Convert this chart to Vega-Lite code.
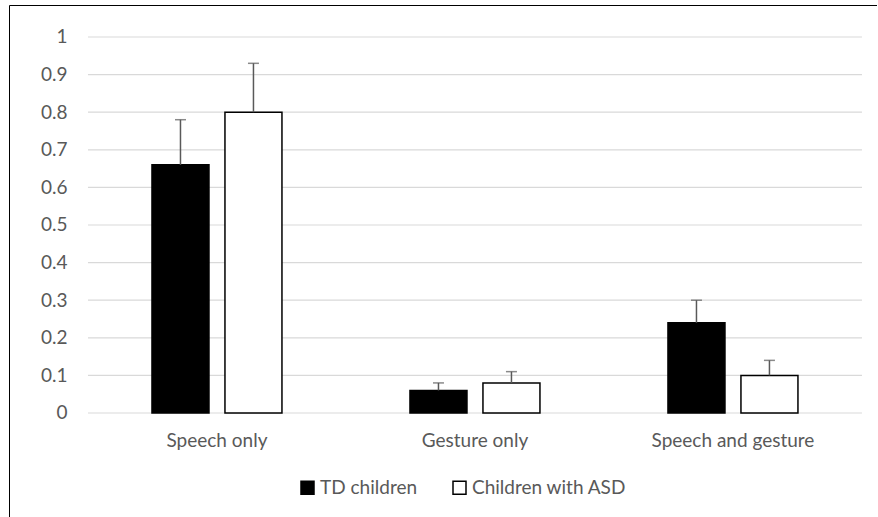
{
  "$schema": "https://vega.github.io/schema/vega-lite/v6.json",
  "width": 868,
  "height": 512,
  "autosize": {"type": "none"},
  "padding": {"left": 9, "top": 5, "right": 0, "bottom": 0},
  "background": "white",
  "config": {"view": {"stroke": "black", "strokeWidth": 1}, "font": "Lato"},
  "datasets": {
    "bars": [
      {"category": "Speech only", "group": "TD children", "value": 0.66, "upper": 0.78},
      {"category": "Speech only", "group": "Children with ASD", "value": 0.80, "upper": 0.93},
      {"category": "Gesture only", "group": "TD children", "value": 0.06, "upper": 0.08},
      {"category": "Gesture only", "group": "Children with ASD", "value": 0.08, "upper": 0.11},
      {"category": "Speech and gesture", "group": "TD children", "value": 0.24, "upper": 0.30},
      {"category": "Speech and gesture", "group": "Children with ASD", "value": 0.10, "upper": 0.14}
    ],
    "grid": [
      {"v": 0, "from": "Speech only", "to": "Speech and gesture"},
      {"v": 0.1, "from": "Speech only", "to": "Speech and gesture"},
      {"v": 0.2, "from": "Speech only", "to": "Speech and gesture"},
      {"v": 0.3, "from": "Speech only", "to": "Speech and gesture"},
      {"v": 0.4, "from": "Speech only", "to": "Speech and gesture"},
      {"v": 0.5, "from": "Speech only", "to": "Speech and gesture"},
      {"v": 0.6, "from": "Speech only", "to": "Speech and gesture"},
      {"v": 0.7, "from": "Speech only", "to": "Speech and gesture"},
      {"v": 0.8, "from": "Speech only", "to": "Speech and gesture"},
      {"v": 0.9, "from": "Speech only", "to": "Speech and gesture"},
      {"v": 1, "from": "Speech only", "to": "Speech and gesture"}
    ]
  },
  "layer": [
    {
      "data": {"name": "grid"},
      "mark": {"type": "rule", "color": "#d9d9d9", "strokeWidth": 1.2},
      "encoding": {
        "x": {
          "field": "from", "type": "nominal", "bandPosition": 0,
          "scale": {"domain": ["Speech only", "Gesture only", "Speech and gesture"], "paddingInner": 0, "paddingOuter": 0.1822, "align": 0.84},
          "axis": {"title": null, "offset": -104, "domain": false, "ticks": false, "labelPadding": 18, "labelFontSize": 19, "labelColor": "#595959", "labelAngle": 0}
        },
        "x2": {"field": "to", "bandPosition": 1},
        "y": {
          "field": "v", "type": "quantitative",
          "scale": {"domain": [-0.2766, 1.0851], "nice": false, "zero": false},
          "axis": {"title": null, "offset": -79, "values": [0, 0.1, 0.2, 0.3, 0.4, 0.5, 0.6, 0.7, 0.8, 0.9, 1], "format": "~g", "grid": false, "domain": false, "ticks": false, "labelPadding": 21, "labelFontSize": 19, "labelColor": "#595959"}
        }
      }
    },
    {
      "data": {"name": "bars"},
      "mark": {"type": "bar", "stroke": "black", "strokeWidth": 1.5},
      "encoding": {
        "x": {"field": "category", "type": "nominal"},
        "xOffset": {"field": "group", "type": "nominal", "sort": ["TD children", "Children with ASD"], "scale": {"paddingInner": 0.219, "paddingOuter": 0.877}},
        "y": {"field": "value", "type": "quantitative"},
        "y2": {"datum": 0},
        "color": {
          "field": "group", "type": "nominal",
          "scale": {"domain": ["TD children", "Children with ASD"], "range": ["black", "white"]},
          "legend": {"orient": "none", "legendX": 289, "legendY": 473, "direction": "horizontal", "title": null, "symbolType": "square", "symbolSize": 169, "labelFontSize": 19, "labelColor": "#595959", "symbolStrokeColor": "black", "symbolStrokeWidth": 1.5, "labelOffset": 3, "columnPadding": 32}
        }
      }
    },
    {
      "data": {"name": "bars"},
      "mark": {"type": "rule", "color": "#595959", "strokeWidth": 1.5},
      "encoding": {
        "x": {"field": "category", "type": "nominal"},
        "xOffset": {"field": "group", "type": "nominal", "sort": ["TD children", "Children with ASD"]},
        "y": {"field": "value", "type": "quantitative"},
        "y2": {"field": "upper"}
      }
    },
    {
      "data": {"name": "bars"},
      "mark": {"type": "tick", "color": "#595959", "thickness": 1.5, "size": 11},
      "encoding": {
        "x": {"field": "category", "type": "nominal"},
        "xOffset": {"field": "group", "type": "nominal", "sort": ["TD children", "Children with ASD"]},
        "y": {"field": "upper", "type": "quantitative"}
      }
    }
  ]
}
